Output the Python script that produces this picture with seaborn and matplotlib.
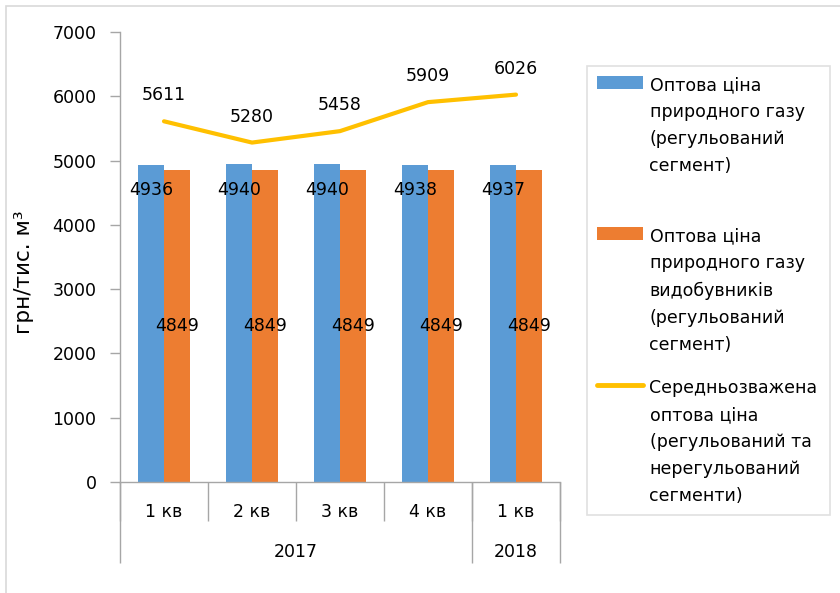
import matplotlib
matplotlib.use("Agg")
import matplotlib.pyplot as plt
import matplotlib.transforms as mtransforms
from matplotlib.patches import Patch, Rectangle
from matplotlib.lines import Line2D
import pandas as pd
import seaborn as sns

# Data
quarters = ["1 кв", "2 кв", "3 кв", "4 кв", "1 кв"]
years = ["2017", "2017", "2017", "2017", "2018"]
price_regulated = [4936, 4940, 4940, 4938, 4937]
price_producers = [4849, 4849, 4849, 4849, 4849]
price_weighted = [5611, 5280, 5458, 5909, 6026]

series_names = [
    "Оптова ціна\nприродного газу\n(регульований\nсегмент)",
    "Оптова ціна\nприродного газу\nвидобувників\n(регульований\nсегмент)",
    "Середньозважена\nоптова ціна\n(регульований та\nнерегульований\nсегменти)",
]
colors = ["#5B9BD5", "#ED7D31", "#FFC000"]
y_ticks = [0, 1000, 2000, 3000, 4000, 5000, 6000, 7000]
y_label = "грн/тис. м³"

AXIS_GREY = "#A6A6A6"
FONT_SIZE = 12.5

periods = [f"{y} {q}" for y, q in zip(years, quarters)]
bars = pd.DataFrame({
    "period": periods * 2,
    "series": [series_names[0]] * len(periods) + [series_names[1]] * len(periods),
    "value": price_regulated + price_producers,
})

sns.set_theme(style="white")
plt.rcParams["font.family"] = ["DejaVu Sans"]
plt.rcParams["text.color"] = "black"
plt.rcParams["axes.labelcolor"] = "black"

fig = plt.figure(figsize=(8.4, 5.93), dpi=100)
ax = fig.add_axes([120 / 840, 1 - 482 / 593, 440 / 840, 450 / 593])

# outer chart border
fig.patches.append(Rectangle((6 / 840, -0.05), 1.1, 1 - 6 / 593 + 0.05,
                             transform=fig.transFigure, fill=False,
                             edgecolor="#D9D9D9", linewidth=1.2))

sns.barplot(data=bars, x="period", y="value", hue="series", order=periods,
            hue_order=series_names[:2], palette=colors[:2], saturation=1,
            width=0.59, gap=0, linewidth=0, errorbar=None, legend=False, ax=ax)
sns.lineplot(x=periods, y=price_weighted, color=colors[2], linewidth=3,
             sort=False, ax=ax)

# data labels
ax.bar_label(ax.containers[0], padding=-25, fontsize=FONT_SIZE, color="black")
ax.bar_label(ax.containers[1], label_type="center", fontsize=FONT_SIZE,
             color="black")
for i, v in enumerate(price_weighted):
    ax.annotate(str(v), (i, v), xytext=(0, 26), textcoords="offset pixels",
                ha="center", va="center", fontsize=FONT_SIZE, color="black")

# axes styling
ax.set_xlim(-0.5, len(periods) - 0.5)
ax.set_ylim(y_ticks[0], y_ticks[-1])
ax.set_yticks(y_ticks)
ax.tick_params(axis="y", left=True, length=7, width=1, color=AXIS_GREY,
               pad=10, labelsize=FONT_SIZE, labelcolor="black")
ax.set_xticks(range(len(periods)))
ax.set_xticklabels(quarters)
ax.tick_params(axis="x", bottom=False, length=0, pad=15, labelsize=FONT_SIZE,
               labelcolor="black")
ax.set_xlabel("")
ax.set_ylabel(y_label, fontsize=15.5, color="black")
ax.yaxis.set_label_coords(-0.195, 0.467)
for side in ["top", "right"]:
    ax.spines[side].set_visible(False)
for side in ["left", "bottom"]:
    ax.spines[side].set_color(AXIS_GREY)
    ax.spines[side].set_linewidth(1)

# two-level category axis
trans = mtransforms.blended_transform_factory(ax.transData, ax.transAxes)
bounds = [i - 0.5 for i in range(len(periods) + 1)]
ax.vlines(bounds, -0.087, 0, transform=trans, colors=AXIS_GREY,
          linewidth=1, clip_on=False)
year_groups = pd.Series(range(len(periods))).groupby(pd.Series(years))
year_edges = sorted({-0.5, len(periods) - 0.5} |
                    {g.max() + 0.5 for _, g in year_groups})
ax.vlines(year_edges, -0.18, 0, transform=trans, colors=AXIS_GREY,
          linewidth=1, clip_on=False)
for year, idx in year_groups:
    ax.text(idx.mean(), -0.156, year, transform=trans, ha="center",
            va="center", fontsize=FONT_SIZE, color="black")

# legend: equal-height entries, marker next to the first line
markers = [Patch(facecolor=colors[0], edgecolor="none"),
           Patch(facecolor=colors[1], edgecolor="none"),
           Line2D([], [], color=colors[2], linewidth=3.5)]
n_lines = max(name.count("\n") for name in series_names)
labels = [name + "\n" * (n_lines - name.count("\n")) for name in series_names]
leg = fig.legend(markers, labels, loc="upper left",
                 bbox_to_anchor=(587 / 840, 1 - 66 / 593, 243 / 840, 0),
                 mode="expand", fontsize=FONT_SIZE, frameon=True,
                 fancybox=False, edgecolor="#D9D9D9", handlelength=2.6,
                 handleheight=0.7, handletextpad=0.4, labelspacing=1.45,
                 borderpad=0.6, borderaxespad=0)
leg.get_frame().set_linewidth(1.2)
for t in leg.get_texts():
    t.set_linespacing(1.64)
    t.set_color("black")
for column in leg._legend_handle_box.get_children():
    for row in column.get_children():
        row.align = "top"

fig.savefig("out.png", dpi=100)
